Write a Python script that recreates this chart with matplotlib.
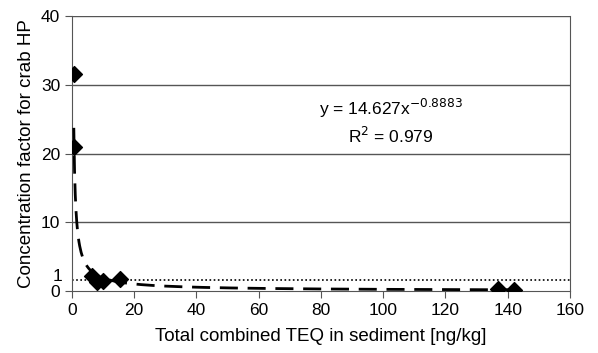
import numpy as np
import matplotlib
matplotlib.use("Agg")
import matplotlib.pyplot as plt

plt.rcParams['font.family'] = ['Liberation Sans', 'DejaVu Sans']

# measured points
teq = [0.8, 0.8, 6.5, 8.0, 10.0, 15.5, 137.0, 142.0]
cf = [31.5, 21.0, 2.2, 1.3, 1.4, 1.7, 0.25, 0.2]

# power-law trend shown on the chart
coef_a = 14.627
coef_b = -0.8883
r2 = 0.979

ref_level = 1.6   # dotted reference line
one_label_pos = 2.3  # where the "1" label sits on the axis
y_ticks = [0, 10, 20, 30, 40]
x_ticks = [0, 20, 40, 60, 80, 100, 120, 140, 160]

fig = plt.figure(figsize=(5.98, 3.53), dpi=100)
ax = fig.add_axes([0.1204, 0.1756, 0.8326, 0.7791])

for g in [10, 20, 30, 40]:
    ax.axhline(g, color='#555555', lw=1.0, zorder=1)

ax.axhline(ref_level, color='black', lw=1.2, linestyle=(0, (1, 1.5)), zorder=2)

xs = np.linspace(0.58, 142, 600)
ax.plot(xs, coef_a * xs ** coef_b, color='black', lw=2, linestyle=(0, (6.5, 3.5)), zorder=3)

ax.scatter(teq, cf, marker='D', s=65, color='black', zorder=4)

fig.text(391 / 598, 1 - 108 / 353, 'y = 14.627x$^{-0.8883}$', ha='center', va='center', fontsize=12.5)
fig.text(391 / 598, 1 - 136 / 353, 'R$^2$ = %.3f' % r2, ha='center', va='center', fontsize=12.5)

ax.set_xlim(0, 160)
ax.set_ylim(0, 40)
ax.set_xticks(x_ticks)
ax.set_yticks(y_ticks)
ax.set_yticks([one_label_pos], labels=['1'], minor=True)
ax.tick_params(labelsize=12.5, color='#555555', length=5, direction='out')
ax.tick_params(axis='y', which='minor', length=0, labelsize=12.5, pad=7)

for s in ['left', 'bottom', 'right']:
    ax.spines[s].set_color('#555555')
ax.spines['top'].set_visible(False)

ax.set_xlabel('Total combined TEQ in sediment [ng/kg]', fontsize=13.5, labelpad=7)
ax.set_ylabel('Concentration factor for crab HP', fontsize=13.5, labelpad=4)

fig.savefig('out.png', dpi=100)
